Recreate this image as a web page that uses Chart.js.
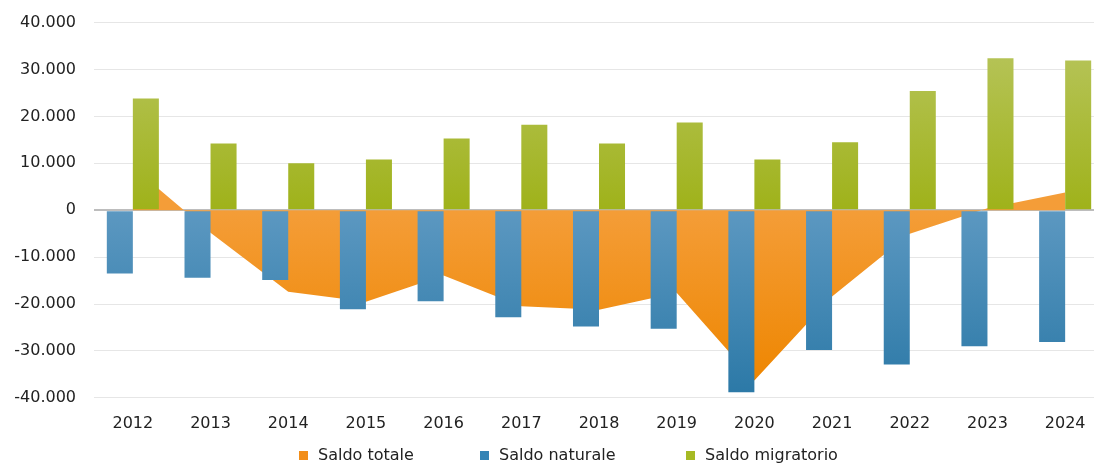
<!DOCTYPE html>
<html>
<head>
<meta charset="utf-8">
<script src="https://cdn.jsdelivr.net/npm/chart.js@4.4.1/dist/chart.umd.min.js"></script>
<style>
  html, body { margin: 0; padding: 0; background: #fff; overflow: hidden; width: 1094px; height: 466px; }
  #wrap { position: absolute; left: 0; top: -5px; width: 1104px; height: 462px; }
  #legend { position: absolute; left: 0; top: 444px; width: 1094px; height: 22px; font: 16px "DejaVu Sans", sans-serif; color: #222; }
  #legend span.item { position: absolute; top: 0; white-space: nowrap; line-height: 22px; }
  #legend i { display: inline-block; width: 9px; height: 9px; margin-right: 10px; vertical-align: 0px; }
</style>
</head>
<body>
<div id="wrap"><canvas id="chart"></canvas></div>
<div id="legend"></div>
<script>
const years = ['2012', '2013', '2014', '2015', '2016', '2017', '2018', '2019', '2020', '2021', '2022', '2023', '2024'];
const saldoTotale = [9200, -4800, -17400, -19500, -13900, -20500, -21200, -17600, -36300, -18400, -5000, 400, 3800];
const saldoNaturale = [-13500, -14400, -14900, -21100, -19400, -22800, -24800, -25300, -38800, -29800, -32900, -29000, -28100];
const saldoMigratorio = [23800, 14200, 10000, 10800, 15300, 18200, 14200, 18700, 10800, 14500, 25400, 32400, 31900];
const seriesNames = ['Saldo totale', 'Saldo naturale', 'Saldo migratorio'];
const legendColors = ['#F28E1A', '#3484B5', '#A6BA24'];
const legendLeft = [299, 480, 686];

function fmt(v) {
  const s = Math.abs(v).toString().replace(/\B(?=(\d{3})+(?!\d))/g, '.');
  return (v < 0 ? '-' : '') + s;
}

function grad(ctx, from, to, c1, c2) {
  const chart = ctx.chart;
  if (!chart.chartArea) return c2;
  const y = chart.scales.y;
  const g = chart.ctx.createLinearGradient(0, y.getPixelForValue(from), 0, y.getPixelForValue(to));
  g.addColorStop(0, c1);
  g.addColorStop(1, c2);
  return g;
}

const canvas = document.getElementById('chart');
const chart = new Chart(canvas, {
  type: 'bar',
  data: {
    labels: years,
    datasets: [
      {
        type: 'line', label: seriesNames[0], data: saldoTotale, order: 2,
        fill: 'origin', borderWidth: 0, pointRadius: 0, tension: 0,
        borderColor: 'rgba(0,0,0,0)',
        backgroundColor: (c) => grad(c, 0, -37000, '#F49D38', '#EE8600')
      },
      {
        label: seriesNames[1], data: saldoNaturale, order: 1,
        backgroundColor: (c) => grad(c, 0, -39000, '#5C98C1', '#2C79A7'),
        borderWidth: 0,
        categoryPercentage: 0.67, barPercentage: 1.0
      },
      {
        label: seriesNames[2], data: saldoMigratorio, order: 1,
        backgroundColor: (c) => grad(c, 33000, 0, '#B5C356', '#9FB21A'),
        borderWidth: 0,
        categoryPercentage: 0.67, barPercentage: 1.0
      }
    ]
  },
  options: {
    responsive: true,
    maintainAspectRatio: false,
    animation: false,
    layout: { padding: { top: 17, bottom: 8, left: 0, right: 0 } },
    plugins: { legend: { display: false }, tooltip: { enabled: false } },
    scales: {
      x: {
        grid: { display: false, drawTicks: false },
        border: { display: false },
        ticks: { font: { family: 'DejaVu Sans', size: 16 }, color: '#222', padding: 16, maxRotation: 0 }
      },
      y: {
        min: -40000, max: 40000,
        afterFit: (s) => { s.width = 94; },
        border: { display: false },
        grid: {
          drawTicks: false,
          color: (c) => c.tick && c.tick.value === 0 ? '#BDBDBD' : '#E6E6E6',
          lineWidth: (c) => c.tick && c.tick.value === 0 ? 2 : 1
        },
        ticks: {
          stepSize: 10000, padding: 18, color: '#222',
          font: { family: 'DejaVu Sans', size: 16 },
          callback: (v) => fmt(v)
        }
      }
    }
  }
});

const legend = document.getElementById('legend');
seriesNames.forEach((name, i) => {
  const item = document.createElement('span');
  item.className = 'item';
  item.style.left = legendLeft[i] + 'px';
  const box = document.createElement('i');
  box.style.background = legendColors[i];
  item.appendChild(box);
  item.appendChild(document.createTextNode(name));
  legend.appendChild(item);
});
</script>
</body>
</html>
